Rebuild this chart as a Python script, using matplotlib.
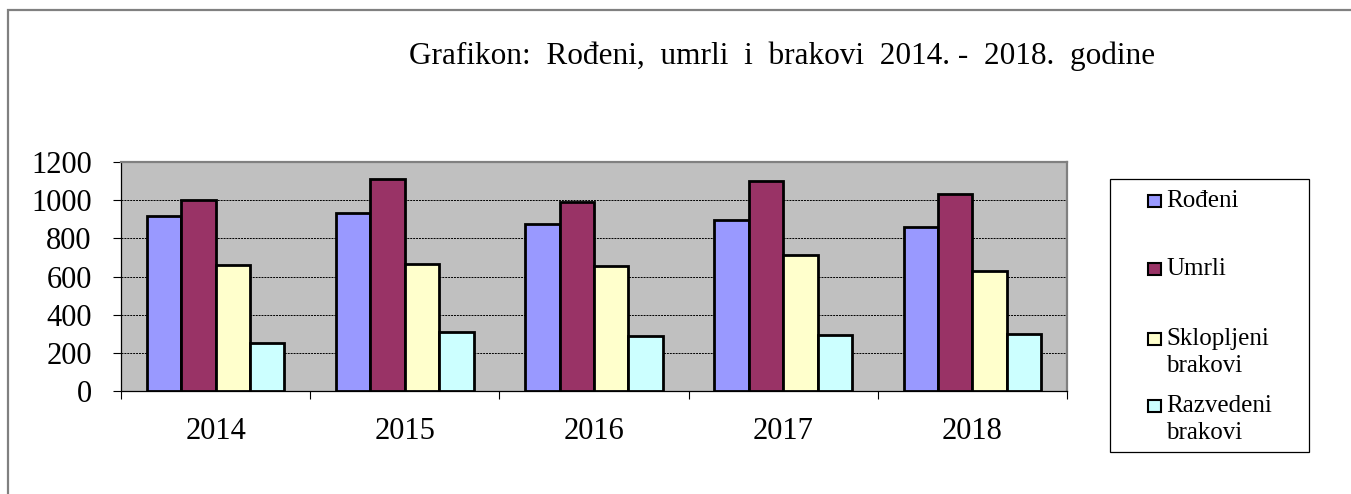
#!/usr/bin/python3
# coding: utf-8

import numpy as np
import matplotlib
matplotlib.use('Agg')
import matplotlib.pyplot as plt
import matplotlib.patches as pat

years = ['2014', '2015', '2016', '2017', '2018']
series_names = ['Rođeni', 'Umrli', 'Sklopljeni\nbrakovi', 'Razvedeni\nbrakovi']
rodjeni = [917, 933, 877, 898, 859]
umrli = [1000, 1113, 990, 1099, 1032]
sklopljeni = [662, 668, 653, 715, 629]
razvedeni = [251, 309, 287, 295, 297]
colors = ['#9999FF', '#993366', '#FFFFCC', '#CCFFFF']
title = 'Grafikon:  Rođeni,  umrli  i  brakovi  2014. -  2018.  godine'

W, H = 1351, 494


def px(x, y):
    # pixel coords (from top-left) -> figure fraction
    return x / W, 1 - y / H


def main():
    plt.rcParams['font.family'] = ['Liberation Serif', 'DejaVu Serif']
    fig = plt.figure(figsize=(W / 100, H / 100), dpi=100)

    # outer frame, cut off by the right and bottom edges
    x0, y0 = px(8, 10)
    fig.patches.append(pat.Rectangle((x0, -0.1), 1.2, y0 + 0.1, transform=fig.transFigure,
                                     fill=False, ec='#808080', lw=1.6))

    left, top = px(121, 162)
    right, bottom = px(1067, 391)
    ax = fig.add_axes([left, bottom, right - left, top - bottom])
    ax.set_facecolor('#C0C0C0')

    data = [rodjeni, umrli, sklopljeni, razvedeni]
    x = np.arange(len(years))
    bw = 0.182
    for j, vals in enumerate(data):
        ax.bar(x + (j - 1.5) * bw, vals, bw, color=colors[j], edgecolor='black',
               linewidth=2.0, zorder=3)

    ax.set_xlim(-0.5, len(years) - 0.5)
    ax.set_ylim(0, 1200)
    ax.set_yticks(range(0, 1201, 200))
    ax.yaxis.grid(True, color='black', linestyle=(0, (2, 1)), linewidth=0.7, zorder=1)
    ax.set_axisbelow(True)

    ax.set_xticks(np.arange(-0.5, len(years)), minor=False)
    ax.set_xticklabels([])
    ax.set_xticks(x, minor=True)
    ax.set_xticklabels(years, minor=True)
    ax.tick_params(axis='x', which='major', direction='out', length=6, width=0.8)
    ax.tick_params(axis='x', which='minor', length=0, pad=19, labelsize=22)
    ax.tick_params(axis='y', direction='out', length=6, width=0.8, pad=15, labelsize=22)

    for s in ['top', 'right']:
        ax.spines[s].set_color('#808080')
        ax.spines[s].set_linewidth(1.6)
    for s in ['left', 'bottom']:
        ax.spines[s].set_color('black')
        ax.spines[s].set_linewidth(0.9)

    tx, ty = px(782, 56)
    fig.text(tx, ty, title, ha='center', va='center', fontsize=22.5)

    # legend box
    lx0, ly0 = px(1110, 452)
    lx1, ly1 = px(1309, 179)
    fig.patches.append(pat.Rectangle((lx0, ly0), lx1 - lx0, ly1 - ly0, transform=fig.transFigure,
                                     fill=False, ec='black', lw=0.9))
    baselines = [207, 275, 345, 412]
    line_step = 27
    for j, name in enumerate(series_names):
        sx, sy = px(1148, baselines[j])
        fig.patches.append(pat.Rectangle((sx, sy), 13 / W, 12 / H, transform=fig.transFigure,
                                         fc=colors[j], ec='black', lw=1.5))
        for k, line in enumerate(name.split('\n')):
            tx, ty = px(1166, baselines[j] + k * line_step)
            fig.text(tx, ty, line, ha='left', va='baseline', fontsize=18)

    plt.savefig('out.png', dpi=100)


if __name__ == '__main__':
    main()
